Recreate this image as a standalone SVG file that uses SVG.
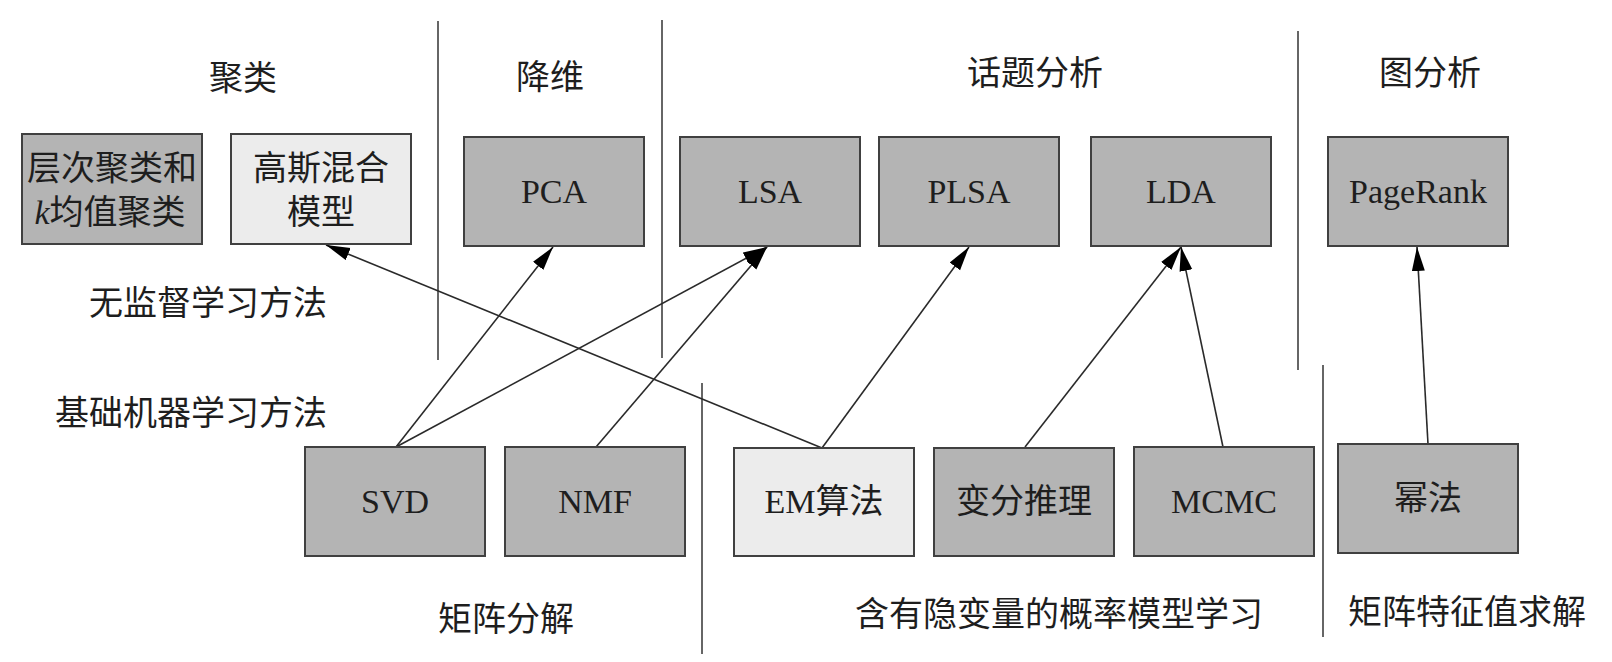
<svg xmlns="http://www.w3.org/2000/svg" width="1612" height="662" viewBox="0 0 1612 662">
<style>
text{font-family:"Liberation Serif","Noto Sans CJK SC",serif;font-size:34px;fill:#1e1e1e;text-anchor:middle}
.dark{fill:#b4b4b4;stroke:#404040;stroke-width:2}
.light{fill:#ececec;stroke:#404040;stroke-width:2}
.div{stroke:#666;stroke-width:2}
.edge{stroke:#2a2a2a;stroke-width:1.6;fill:none;marker-end:url(#arr)}
</style>
<defs>
<marker id="arr" markerUnits="userSpaceOnUse" markerWidth="26" markerHeight="14" refX="24" refY="6.5" orient="auto">
<path d="M0,0 L24,6.5 L0,13 z" fill="#000"/>
</marker>
</defs>
<rect width="1612" height="662" fill="#fff"/>
<g id="dividers">
<line class="div" x1="438" y1="21" x2="438" y2="360"/>
<line class="div" x1="662" y1="20" x2="662" y2="358"/>
<line class="div" x1="1298" y1="31" x2="1298" y2="370"/>
<line class="div" x1="702" y1="383" x2="702" y2="654"/>
<line class="div" x1="1323" y1="365" x2="1323" y2="637"/>
</g>
<g id="labels">
<text x="243" y="90">聚类</text>
<text x="550" y="89">降维</text>
<text x="1035" y="85">话题分析</text>
<text x="1430" y="85">图分析</text>
<text x="208" y="315">无监督学习方法</text>
<text x="191" y="425">基础机器学习方法</text>
<text x="506" y="631">矩阵分解</text>
<text x="1059" y="626">含有隐变量的概率模型学习</text>
<text x="1467" y="624">矩阵特征值求解</text>
</g>
<g id="connectors">
<line class="edge" x1="396" y1="447" x2="553" y2="247"/>
<line class="edge" x1="396" y1="447" x2="767" y2="247"/>
<line class="edge" x1="596" y1="447" x2="767" y2="247"/>
<line class="edge" x1="822" y1="448" x2="326" y2="245"/>
<line class="edge" x1="822" y1="448" x2="969" y2="247"/>
<line class="edge" x1="1025" y1="447" x2="1181" y2="247"/>
<line class="edge" x1="1223" y1="447" x2="1181" y2="247"/>
<line class="edge" x1="1428" y1="444" x2="1417" y2="247"/>
</g>
<g id="node-hier">
<rect class="dark" x="22" y="134" width="180" height="110"/>
<text x="112" y="180">层次聚类和</text>
<text x="110" y="224"><tspan font-style="italic">k</tspan>均值聚类</text>
</g>
<g id="node-gmm">
<rect class="light" x="231" y="134" width="180" height="110"/>
<text x="321" y="180">高斯混合</text>
<text x="321" y="224">模型</text>
</g>
<g id="node-pca">
<rect class="dark" x="464" y="137" width="180" height="109"/>
<text x="554" y="203">PCA</text>
</g>
<g id="node-lsa">
<rect class="dark" x="680" y="137" width="180" height="109"/>
<text x="770" y="203">LSA</text>
</g>
<g id="node-plsa">
<rect class="dark" x="879" y="137" width="180" height="109"/>
<text x="969" y="203">PLSA</text>
</g>
<g id="node-lda">
<rect class="dark" x="1091" y="137" width="180" height="109"/>
<text x="1181" y="203">LDA</text>
</g>
<g id="node-pagerank">
<rect class="dark" x="1328" y="137" width="180" height="109"/>
<text x="1418" y="203">PageRank</text>
</g>
<g id="node-svd">
<rect class="dark" x="305" y="447" width="180" height="109"/>
<text x="395" y="513">SVD</text>
</g>
<g id="node-nmf">
<rect class="dark" x="505" y="447" width="180" height="109"/>
<text x="595" y="513">NMF</text>
</g>
<g id="node-em">
<rect class="light" x="734" y="448" width="180" height="108"/>
<text x="824" y="513">EM算法</text>
</g>
<g id="node-vi">
<rect class="dark" x="934" y="448" width="180" height="108"/>
<text x="1024" y="513">变分推理</text>
</g>
<g id="node-mcmc">
<rect class="dark" x="1134" y="447" width="180" height="109"/>
<text x="1224" y="513">MCMC</text>
</g>
<g id="node-power">
<rect class="dark" x="1338" y="444" width="180" height="109"/>
<text x="1428" y="510">幂法</text>
</g>
</svg>
